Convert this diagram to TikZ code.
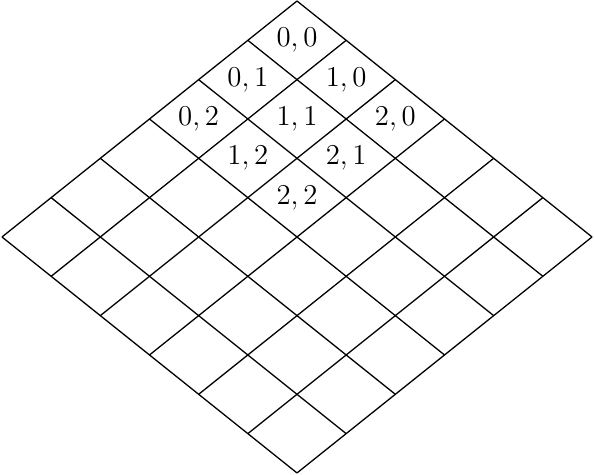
\documentclass[tikz,border=0pt]{standalone}
\usepackage{tikz}

\tikzset{
  gridline/.style={line width=0.65pt},
  celllabel/.style={font=\fontsize{13.5}{16}\selectfont,inner sep=0pt}
}

\begin{document}
\begin{tikzpicture}[x=0.5pt,y=0.5pt]
  \useasboundingbox (0,0) rectangle (594,475);
  % tilted grid, origin at the top corner
  \begin{scope}[shift={(297,474)},x={(24.585pt,-19.665pt)},y={(-24.585pt,-19.665pt)}]
    \foreach \k in {0,...,6} {
      \draw[gridline] (\k,0) -- (\k,6);
      \draw[gridline] (0,\k) -- (6,\k);
    }
    \foreach \i/\j in {0/0,1/0,2/0,0/1,1/1,2/1,0/2,1/2,2/2}
      \node[celllabel] (c\i\j) at (\i+0.5,\j+0.5) {$\i,\j$};
  \end{scope}
\end{tikzpicture}
\end{document}
